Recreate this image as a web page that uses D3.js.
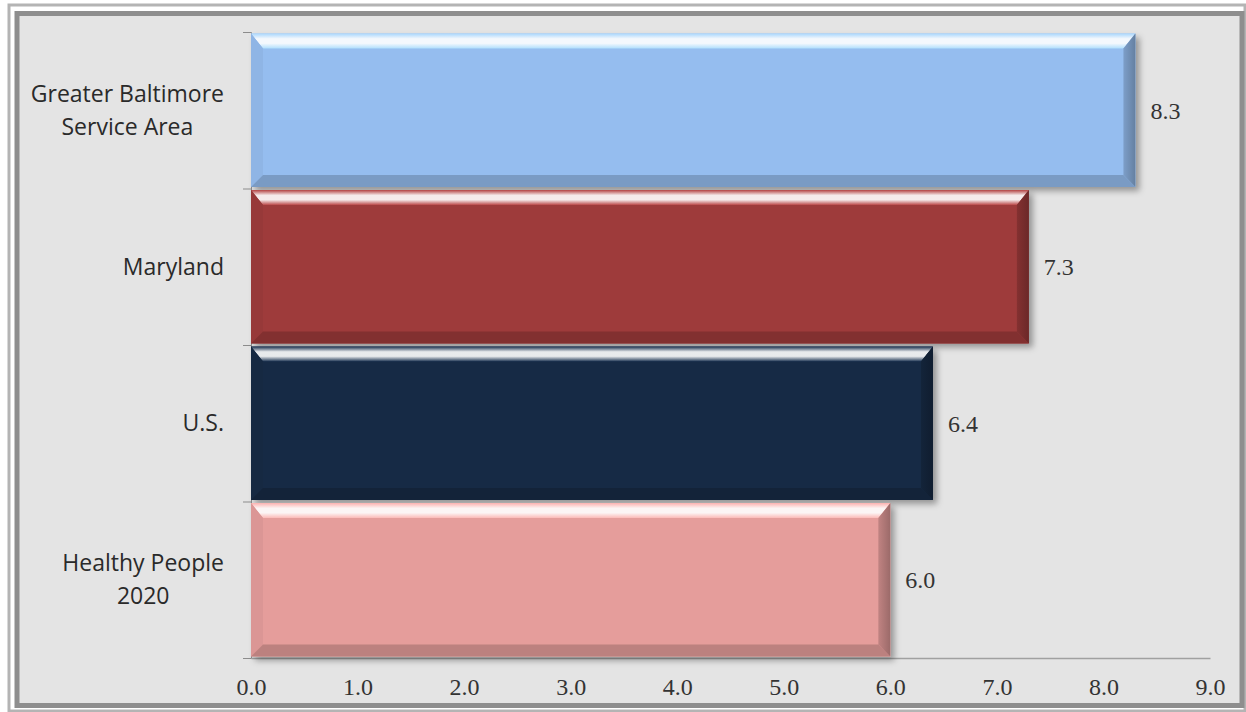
<!DOCTYPE html>
<html><head><meta charset="utf-8">
<script src="https://cdn.jsdelivr.net/npm/d3@7"></script>
<style>body{margin:0;background:#fff}svg{display:block}</style>
</head><body>
<svg id="c" width="1246" height="712"></svg>
<script>
const categories = [["Greater Baltimore","Service Area"],["Maryland"],["U.S."],["Healthy People","2020"]];
const values = [8.3, 7.3, 6.4, 6.0];
const barColors = ["#95bdef", "#9e3b3b", "#172b45", "#e59d9b"];
const xTicks = [0,1,2,3,4,5,6,7,8,9];

const svg = d3.select("#c");
const W = 1246, H = 712;
const m = {left:251, right:1210, top:32, bottom:658};

// frame / background
svg.append("rect").attr("x",0).attr("y",0).attr("width",W).attr("height",H).attr("fill","#ffffff");
svg.append("rect").attr("x",9).attr("y",5).attr("width",1236).attr("height",706).attr("fill","none").attr("stroke","#b4b4b4").attr("stroke-width",3);
svg.append("rect").attr("x",17).attr("y",13.5).attr("width",1225).attr("height",692).attr("fill","#e4e4e4").attr("stroke","#8e8e8e").attr("stroke-width",5);

const defs = svg.append("defs");
const f = defs.append("filter").attr("id","sh").attr("x","-5%").attr("y","-10%").attr("width","115%").attr("height","130%");
f.append("feDropShadow").attr("dx",4).attr("dy",4).attr("stdDeviation",3).attr("flood-color","#000").attr("flood-opacity",0.35);

const x = d3.scaleLinear().domain([0,9]).range([m.left, m.right]);
const y = d3.scaleBand().domain(d3.range(values.length)).range([m.top, m.bottom]).paddingInner(0.02).paddingOuter(0.01);

// axes lines
const g = svg.append("g");
const yAxis = d3.axisLeft(d3.scaleLinear().domain([0,4]).range([m.top, m.bottom])).ticks(4).tickSize(8).tickFormat("");
g.append("g").attr("transform",`translate(${m.left},0)`).call(yAxis)
  .call(s=>{s.selectAll("line,path").attr("stroke","#8c8c8c");});
const xAxis = d3.axisBottom(x).tickValues(xTicks).tickSize(0).tickPadding(20).tickFormat(d3.format(".1f"));
g.append("g").attr("transform",`translate(0,${m.bottom})`).call(xAxis)
  .call(s=>{s.select(".domain").attr("stroke","#a0a0a0").attr("stroke-width",1.5);
            s.selectAll("text").attr("font-family","Liberation Serif").attr("font-size",24).attr("fill","#333");});

// bars
const bev = 12;
values.forEach((v,i)=>{
  const x0 = x(0), x1 = x(v), y0 = y(i), y1 = y(i)+y.bandwidth();
  const c = d3.color(barColors[i]);
  const bg = svg.append("g");
  bg.append("rect").attr("x",x0).attr("y",y0).attr("width",x1-x0).attr("height",y1-y0)
    .attr("fill",c).attr("filter","url(#sh)");
  const gid = "tg"+i;
  const lg = defs.append("linearGradient").attr("id",gid).attr("x1",0).attr("y1",0).attr("x2",0).attr("y2",1);
  lg.append("stop").attr("offset","0%").attr("stop-color",c.brighter(0.4));
  lg.append("stop").attr("offset","35%").attr("stop-color","#ffffff");
  lg.append("stop").attr("offset","65%").attr("stop-color","#ffffff");
  lg.append("stop").attr("offset","100%").attr("stop-color",c.brighter(0.5));
  // top bevel
  bg.append("polygon").attr("points",[[x0,y0],[x1,y0],[x1-bev,y0+bev+3],[x0+bev,y0+bev+3]].join(" "))
    .attr("fill",`url(#${gid})`).attr("opacity",0.9);
  // left bevel
  bg.append("polygon").attr("points",[[x0,y0],[x0+bev,y0+bev+3],[x0+bev,y1-bev],[x0,y1]].join(" "))
    .attr("fill",c.darker(0.12));
  // bottom bevel
  bg.append("polygon").attr("points",[[x0,y1],[x0+bev,y1-bev],[x1-bev,y1-bev],[x1,y1]].join(" "))
    .attr("fill",c.darker(0.55));
  // right bevel
  const rid = "rg"+i;
  const rg = defs.append("linearGradient").attr("id",rid).attr("x1",0).attr("y1",0).attr("x2",1).attr("y2",0);
  rg.append("stop").attr("offset","0%").attr("stop-color",c.darker(0.5));
  rg.append("stop").attr("offset","100%").attr("stop-color",c.darker(1.1));
  bg.append("polygon").attr("points",[[x1,y0],[x1,y1],[x1-bev,y1-bev],[x1-bev,y0+bev+3]].join(" "))
    .attr("fill",`url(#${rid})`);
  // value label
  svg.append("text").attr("x",x1+15).attr("y",y0+y.bandwidth()/2).attr("dy","0.35em")
    .attr("font-family","Liberation Serif").attr("font-size",24).attr("fill","#333")
    .text(d3.format(".1f")(v));
});

// category labels
const bandCenters = d3.range(4).map(i=>m.top + (m.bottom-m.top)*(i+0.5)/4);
categories.forEach((lines,i)=>{
  const t = svg.append("text").attr("font-family","Open Sans").attr("font-size",23).attr("fill","#2a2a2a");
  const lh = 33;
  const spans = lines.map((l,k)=>t.append("tspan").text(l));
  const maxW = d3.max(spans, s=>s.node().getComputedTextLength());
  const cx = 224 - maxW/2;
  const startY = bandCenters[i] - (lines.length-1)*lh/2;
  spans.forEach((s,k)=>s.attr("x",cx).attr("y",startY+k*lh).attr("dy","0.35em").attr("text-anchor","middle"));
});
</script>
</body></html>
